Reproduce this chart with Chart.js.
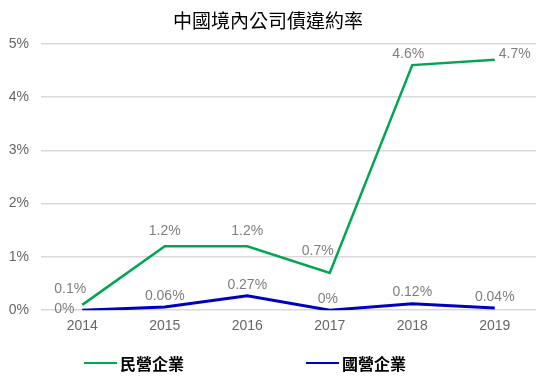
<!DOCTYPE html>
<html>
<head>
<meta charset="utf-8">
<script src="https://cdn.jsdelivr.net/npm/chart.js@4"></script>
<style>
  html, body { margin: 0; padding: 0; background: #fff; }
  #wrap { width: 547px; height: 385px; position: relative; }
</style>
</head>
<body>
<div id="wrap"><canvas id="chart"></canvas></div>
<script>
// Years and default rates (%)
const years = ['2014', '2015', '2016', '2017', '2018', '2019'];
const privateRates = [0.1, 1.2, 1.2, 0.7, 4.6, 4.7];   // 民營企業
const stateRates = [0, 0.06, 0.27, 0, 0.12, 0.04];     // 國營企業
const seriesNames = ['民營企業', '國營企業'];
const yTicks = [0, 1, 2, 3, 4, 5];

// Where each value label sits relative to its point (dx, dy)
const labelOffsets = [
    [[-12, -16], [0, -15], [0, -15], [-12, -22], [-4, -11], [20, -6]],
    [[-18, -1], [0, -11], [0, -11], [-2, -11], [0, -12], [0, -11]]
];
const legendStarts = [84, 306];

const numFont = 'Arial, "Liberation Sans", sans-serif';
const cjkFont = '"Noto Sans CJK TC", "Noto Sans CJK SC", sans-serif';

// Draw value labels on every point
const valueLabels = {
    id: 'valueLabels',
    afterDatasetsDraw(chart) {
        const ctx = chart.ctx;
        ctx.save();
        ctx.font = '14px ' + numFont;
        ctx.fillStyle = '#7f7f7f';
        ctx.textAlign = 'center';
        ctx.textBaseline = 'middle';
        chart.data.datasets.forEach((ds, i) => {
            chart.getDatasetMeta(i).data.forEach((pt, j) => {
                const off = labelOffsets[i][j];
                ctx.fillText(ds.data[j] + '%', pt.x + off[0], pt.y + off[1]);
            });
        });
        ctx.restore();
    }
};

// Bottom legend, spaced like the original
const bottomLegend = {
    id: 'bottomLegend',
    afterDraw(chart) {
        const ctx = chart.ctx;
        const y = 363;
        ctx.save();
        chart.data.datasets.forEach((ds, i) => {
            const x = legendStarts[i];
            ctx.strokeStyle = ds.borderColor;
            ctx.lineWidth = 2;
            ctx.beginPath();
            ctx.moveTo(x, y);
            ctx.lineTo(x + 33, y);
            ctx.stroke();
            ctx.fillStyle = '#000';
            ctx.font = 'bold 16px ' + cjkFont;
            ctx.textBaseline = 'middle';
            ctx.textAlign = 'left';
            ctx.fillText(ds.label, x + 36, y + 1);
        });
        ctx.restore();
    }
};

const ctx = document.getElementById('chart').getContext('2d');
new Chart(ctx, {
    type: 'line',
    data: {
        labels: years,
        datasets: [
            {
                label: seriesNames[0],
                data: privateRates,
                borderColor: '#00a651',
                borderWidth: 2.5,
                pointRadius: 0,
                tension: 0,
                fill: false
            },
            {
                label: seriesNames[1],
                data: stateRates,
                borderColor: '#0000c0',
                borderWidth: 3,
                pointRadius: 0,
                tension: 0,
                fill: false
            }
        ]
    },
    options: {
        responsive: true,
        maintainAspectRatio: false,
        animation: false,
        layout: { padding: { left: 0, right: 11, top: 0, bottom: 42 } },
        plugins: {
            legend: { display: false },
            tooltip: { enabled: false },
            title: {
                display: true,
                text: '中國境內公司債違約率',
                color: '#000',
                font: { family: cjkFont, size: 19, weight: 'normal', lineHeight: 1.2 },
                padding: { top: 9, bottom: 12 }
            }
        },
        scales: {
            x: {
                offset: true,
                grid: { display: false, drawTicks: false },
                border: { display: false },
                ticks: {
                    color: '#666',
                    font: { family: numFont, size: 14 },
                    padding: 8,
                    maxRotation: 0
                }
            },
            y: {
                min: 0,
                max: 5,
                afterBuildTicks(scale) {
                    scale.ticks = yTicks.map(v => ({ value: v }));
                },
                afterFit(scale) {
                    scale.width = 41;
                },
                grid: { color: '#d9d9d9', lineWidth: 1.5, drawTicks: false },
                border: { display: false },
                ticks: {
                    color: '#666',
                    font: { family: numFont, size: 14 },
                    padding: 12,
                    callback: v => v + '%'
                }
            }
        }
    },
    plugins: [valueLabels, bottomLegend]
});
</script>
</body>
</html>
